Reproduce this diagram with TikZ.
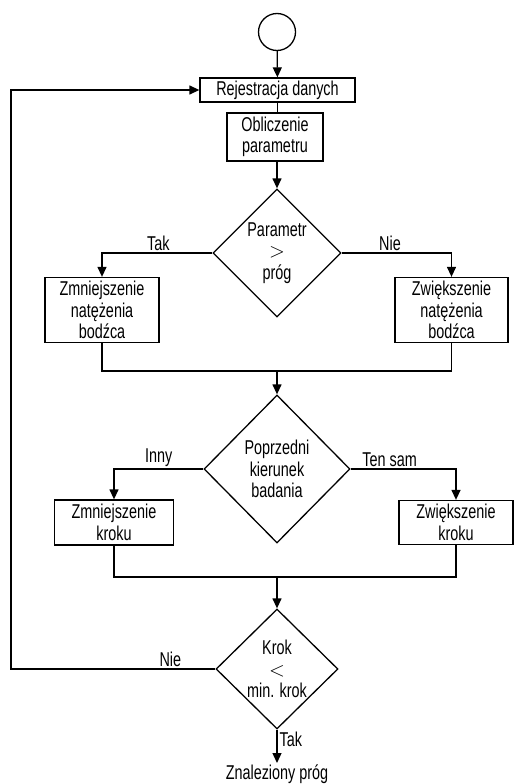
\documentclass[tikz,border=0pt]{standalone}
\usepackage{fontspec}
\setmainfont[FakeStretch=0.72]{Liberation Sans}
\usetikzlibrary{arrows.meta,shapes.geometric,positioning}

\begin{document}
\begin{tikzpicture}[x=1pt, y=-1pt, line width=1.3pt,
		>={Triangle[width=9pt,length=10pt]},
		every node/.style={font=\fontsize{20}{21.5}\selectfont, align=center},
		blok/.style={draw, rectangle, inner sep=0pt},
		decyzja/.style={draw, diamond, aspect=1, inner sep=-2pt},
		etykieta/.style={inner sep=2pt}]
		\useasboundingbox (0,0) rectangle (515,784);
		\node[draw, circle, minimum size=37pt, inner sep=0pt] (start) at (277,32) { };
		\node[blok, minimum width=155pt, minimum height=24pt] (rejestracja) at (277.5,90) {Rejestracja danych};
		\node[blok, minimum width=96pt, minimum height=48pt] (obliczenie) at (275,137) {Obliczenie\\parametru};
		\node[decyzja, minimum width=128pt, minimum height=128pt] (prog) at (277,253) {Parametr\\$>$\\próg};
		\node[blok, minimum width=114pt, minimum height=65pt] (zmniejszenieB) at (102,310) {Zmniejszenie\\natężenia\\bodźca};
		\node[blok, minimum width=113pt, minimum height=65pt] (zwiekszenieB) at (451.5,310) {Zwiększenie\\natężenia\\bodźca};
		\coordinate (zbieg1) at (277,371);
		\node[decyzja, minimum width=146pt, minimum height=148pt] (kierunek) at (277,469) {Poprzedni\\kierunek\\badania};
		\node[blok, minimum width=119pt, minimum height=45pt] (zmniejszenieK) at (114,522.5) {Zmniejszenie\\kroku};
		\node[blok, minimum width=114pt, minimum height=44pt] (zwiekszenieK) at (456,522.5) {Zwiększenie\\kroku};
		\coordinate (zbieg2) at (277,577);
		\node[decyzja, minimum width=122pt, minimum height=120pt] (krok) at (277,669) {Krok\\$<$\\min. krok};
		\node[inner sep=1pt, anchor=north] (wynik) at (277,763) {Znaleziony próg};
		\coordinate (powrot) at (11,669);
		\draw[->] (start) -- (rejestracja);
		\draw (rejestracja) -- (obliczenie.north -| rejestracja.south);
		\draw[->] (obliczenie.south -| prog.north) -- (prog.north);
		\draw[->] (prog.west) -| node[etykieta, pos=0.245, above] {Tak} (zmniejszenieB.north);
		\draw[->] (prog.east) -| node[etykieta, pos=0.22, above] {Nie} (zwiekszenieB.north);
		\draw (zmniejszenieB.south) |- (zbieg1) -| (zwiekszenieB.south);
		\draw[->] (zbieg1) -- (kierunek.north);
		\draw[->] (kierunek.west) -| node[etykieta, pos=0.25, above] {Inny} (zmniejszenieK.north);
		\draw[->] (kierunek.east) -| node[etykieta, pos=0.185, above] {Ten sam} (zwiekszenieK.north);
		\draw (zmniejszenieK.south) |- (zbieg2) -| (zwiekszenieK.south);
		\draw[->] (zbieg2) -- (krok.north);
		\draw[->] (krok.west) -- node[etykieta, pos=0.22, above] {Nie} (powrot) |- (rejestracja.west);
		\draw[->] (krok.south) -- node[etykieta, pos=0.3, right] {Tak} (wynik.north);
\end{tikzpicture}
\end{document}
